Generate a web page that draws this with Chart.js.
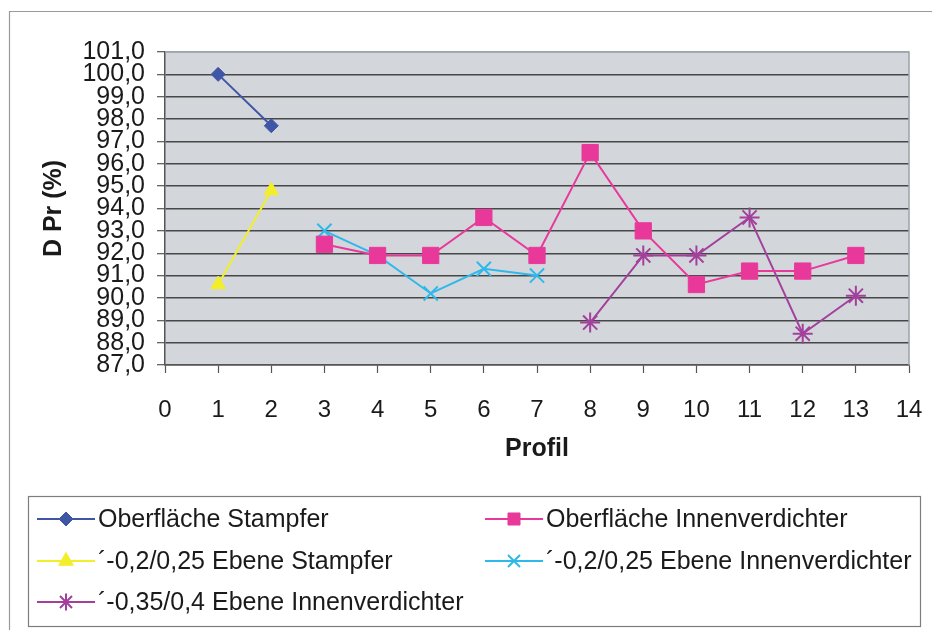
<!DOCTYPE html>
<html>
<head>
<meta charset="utf-8">
<style>
  html, body { margin: 0; padding: 0; background: #ffffff; }
  canvas { display: block; }
</style>
<script src="https://cdn.jsdelivr.net/npm/chart.js@4.4.1/dist/chart.umd.min.js"></script>
</head>
<body>
<canvas id="c" width="932" height="630"></canvas>
<script>
// Profile numbers along the x axis
const profiles = [1, 2, 3, 4, 5, 6, 7, 8, 9, 10, 11, 12, 13];

// Proctor density D Pr (%) per profile; null = not measured
const surfaceStampfer   = [100.0, 97.7, null, null, null, null, null, null, null, null, null, null, null];
const surfaceInnen      = [null, null, 92.4, 91.9, 91.9, 93.6, 91.9, 96.5, 93.0, 90.6, 91.2, 91.2, 91.9];
const level25Stampfer   = [90.6, 94.8, null, null, null, null, null, null, null, null, null, null, null];
const level25Innen      = [null, null, 93.0, 91.9, 90.2, 91.3, 91.0, null, null, null, null, null, null];
const level40Innen      = [null, null, null, null, null, null, null, 88.9, 91.9, 91.9, 93.6, 88.4, 90.1];

// Axis ticks
const xTicks = [0, 1, 2, 3, 4, 5, 6, 7, 8, 9, 10, 11, 12, 13, 14];
const yTicks = [87, 88, 89, 90, 91, 92, 93, 94, 95, 96, 97, 98, 99, 100, 101];

const seriesNames = [
  'Oberfläche Stampfer',
  'Oberfläche Innenverdichter',
  '´-0,2/0,25 Ebene Stampfer',
  '´-0,2/0,25 Ebene Innenverdichter',
  '´-0,35/0,4 Ebene Innenverdichter'
];

function toPoints(values) {
  return profiles.map((p, i) => ({ x: p, y: values[i] })).filter(pt => pt.y !== null);
}

const FONT = "'Liberation Sans', Arial, sans-serif";

function series(label, values, color, style, radius) {
  return {
    label,
    data: toPoints(values),
    borderColor: color,
    backgroundColor: color,
    borderWidth: 2,
    pointStyle: style,
    pointRadius: radius,
    pointHoverRadius: radius,
    pointBorderColor: color,
    pointBackgroundColor: color,
    pointBorderWidth: style === 'crossRot' || style === 'star' ? 2 : 1,
    tension: 0
  };
}

const datasets = [
  series(seriesNames[0], surfaceStampfer, '#3f56a6', 'rectRot', 7),
  series(seriesNames[1], surfaceInnen,    '#e8399b', 'rect', 11.5),
  series(seriesNames[2], level25Stampfer, '#f2ee2a', 'triangle', 8.5),
  series(seriesNames[3], level25Innen,    '#2fb8ea', 'crossRot', 10),
  series(seriesNames[4], level40Innen,    '#a3409c', 'star', 10)
];

// Grey plot background, frame lines and the boxed two-column legend
const decorations = {
  id: 'decorations',
  beforeDraw(chart) {
    const { ctx, chartArea: a } = chart;
    ctx.save();
    ctx.fillStyle = '#d3d7dc';
    ctx.fillRect(a.left, a.top, a.right - a.left, a.bottom - a.top);
    ctx.restore();
  },
  afterDatasetsDraw(chart) {
    const { ctx, chartArea: a } = chart;
    ctx.save();
    ctx.strokeStyle = '#9aa3ab';
    ctx.lineWidth = 1.5;
    ctx.beginPath();
    ctx.moveTo(a.left, a.top);
    ctx.lineTo(a.right, a.top);
    ctx.lineTo(a.right, a.bottom);
    ctx.stroke();
    ctx.restore();
  },
  afterDraw(chart) {
    const { ctx } = chart;
    ctx.save();
    // outer frame
    ctx.strokeStyle = '#9a9a9a';
    ctx.lineWidth = 1.2;
    ctx.beginPath();
    ctx.moveTo(9.5, 630);
    ctx.lineTo(9.5, 11.5);
    ctx.lineTo(932, 11.5);
    ctx.stroke();

    // legend box
    ctx.strokeStyle = '#7d7d7d';
    ctx.lineWidth = 1.2;
    ctx.strokeRect(28.5, 496.5, 892, 130);

    const cols = [37, 485];
    const rows = [519, 561, 602];
    ctx.font = '25px ' + FONT;
    ctx.textBaseline = 'middle';
    ctx.textAlign = 'left';
    chart.data.datasets.forEach((ds, i) => {
      const x = cols[i % 2];
      const y = rows[Math.floor(i / 2)];
      ctx.strokeStyle = ds.borderColor;
      ctx.lineWidth = 2;
      ctx.beginPath();
      ctx.moveTo(x, y);
      ctx.lineTo(x + 58, y);
      ctx.stroke();
      ctx.fillStyle = ds.pointBackgroundColor;
      ctx.strokeStyle = ds.pointBorderColor;
      ctx.lineWidth = ds.pointBorderWidth;
      Chart.helpers.drawPoint(ctx, {
        pointStyle: ds.pointStyle,
        radius: Math.min(ds.pointRadius, 8.5),
        rotation: 0,
        borderWidth: ds.pointBorderWidth
      }, x + 29, y);
      ctx.fillStyle = '#1a1a1a';
      ctx.fillText(ds.label, x + 61, y + 1);
    });
    ctx.restore();
  }
};

new Chart(document.getElementById('c'), {
  type: 'line',
  data: { datasets },
  plugins: [decorations],
  options: {
    responsive: false,
    animation: false,
    devicePixelRatio: 1,
    layout: { padding: { top: 52, right: 23, bottom: 165, left: 0 } },
    plugins: {
      legend: { display: false },
      tooltip: { enabled: false },
      title: { display: false }
    },
    scales: {
      x: {
        type: 'linear',
        min: 0,
        max: 14,
        afterFit(scale) {
          scale.height = 100;
          scale.paddingLeft = 0;
          scale.paddingRight = 0;
        },
        afterBuildTicks(scale) { scale.ticks = xTicks.map(v => ({ value: v })); },
        border: { display: true, color: '#555', width: 1.5 },
        grid: {
          drawOnChartArea: false,
          drawTicks: true,
          tickLength: 8,
          tickColor: '#555',
          tickWidth: 1.2
        },
        ticks: {
          autoSkip: false,
          maxRotation: 0,
          padding: 23,
          color: '#1a1a1a',
          font: { family: FONT, size: 24 }
        },
        title: {
          display: true,
          text: 'Profil',
          color: '#1a1a1a',
          font: { family: FONT, size: 25, weight: 'bold' },
          padding: { top: 0, bottom: 1 }
        }
      },
      y: {
        min: 87,
        max: 101,
        afterFit(scale) {
          scale.width = 165;
          scale.paddingTop = 0;
          scale.paddingBottom = 0;
        },
        afterBuildTicks(scale) { scale.ticks = yTicks.map(v => ({ value: v })); },
        border: { display: true, color: '#555', width: 1.5 },
        grid: {
          drawTicks: true,
          tickLength: 8,
          color: ctx => (ctx.tick && ctx.tick.value === 101 ? '#9fb0bb' : '#474747'),
          lineWidth: 1.4,
          tickColor: '#555',
          tickWidth: 1.2
        },
        ticks: {
          autoSkip: false,
          padding: 12,
          color: '#1a1a1a',
          font: { family: FONT, size: 25 },
          callback: v => v.toFixed(1).replace('.', ',')
        },
        title: {
          display: true,
          text: 'D Pr (%)',
          color: '#1a1a1a',
          font: { family: FONT, size: 25, weight: 'bold' },
          padding: { top: 39, bottom: 0 }
        }
      }
    }
  }
});
</script>
</body>
</html>
